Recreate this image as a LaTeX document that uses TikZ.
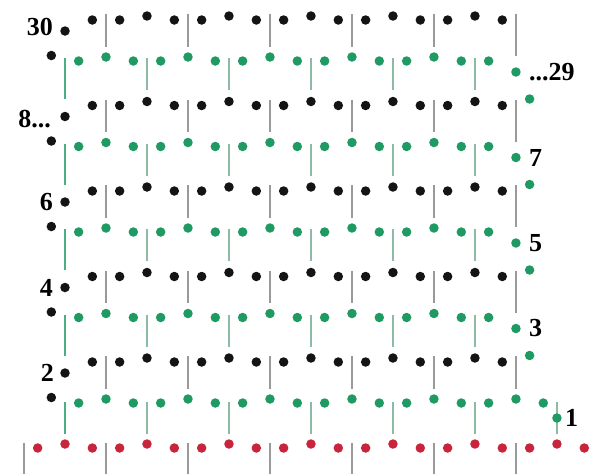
\documentclass[tikz,border=0pt]{standalone}
\usepackage{fontspec}
\setmainfont{Liberation Serif}
\usetikzlibrary{positioning,backgrounds}
\definecolor{dotblack}{HTML}{141414}
\definecolor{dotgreen}{HTML}{1F9A62}
\definecolor{dotred}{HTML}{C8243C}
\definecolor{bargrey}{HTML}{9A9A9A}
\definecolor{bargreen}{HTML}{8DB9A5}
\definecolor{baredge}{HTML}{4DAE82}
\tikzset{
  stitch/.style={circle, inner sep=0pt, minimum size=9.5pt},
  blackdot/.style={stitch, fill=dotblack},
  greendot/.style={stitch, fill=dotgreen},
  reddot/.style={stitch, fill=dotred},
  greybar/.style={draw=bargrey, line width=1.3pt},
  greenbar/.style={draw=bargreen, line width=1.3pt},
  edgebar/.style={draw=baredge, line width=1.8pt},
  rowno/.style={font=\bfseries\fontsize{26}{26}\selectfont, inner sep=1pt}
}
\begin{document}
\begin{tikzpicture}[x=1pt, y=-1pt]
  \useasboundingbox (0,0) rectangle (596,474);
  \def\u{27.33}
  \def\xo{65}
  % foundation chain
  \foreach \kk in {0,...,20}{
    \pgfmathsetmacro\yy{448-4*(mod(\kk,3)==1)}
    \node[reddot] (r\kk) at (\xo+\kk*\u-\u,\yy) {};
  }
  % rows, one black and one green per band
  \foreach \LL in {0,...,4}{
    \pgfmathsetmacro\yb{20+85.5*\LL}
    \pgfmathsetmacro\yg{\yb+41}
    \foreach \mm in {1,...,16}{
      \pgfmathsetmacro\yy{\yb-4*(mod(\mm,3)==0)}
      \node[blackdot] (b\LL-\mm) at (\xo+\mm*\u,\yy) {};
    }
    \node[blackdot] (b\LL-0) at (\xo,\yb+11) {};
    \node[blackdot] (t\LL) at (\xo-0.5*\u,\yg-5.5) {};
    \pgfmathtruncatemacro\kmax{\LL==4 ? 17 : 15}
    \foreach \kk in {0,...,\kmax}{
      \pgfmathsetmacro\yy{\yg-4*(mod(\kk,3)==1)}
      \node[greendot] (g\LL-\kk) at (\xo+\kk*\u+0.5*\u,\yy) {};
    }
    \ifnum\LL>0 \node[greendot] (s\LL) at (\xo+17*\u,\yb-6.5) {}; \fi
    \ifnum\LL<4
      \node[greendot] (g\LL-n) at (\xo+16.5*\u,\yg+11) {};
    \else
      \node[greendot] (g\LL-n) at (\xo+18*\u,\yg+15) {};
    \fi
  }
  % posts
  \begin{scope}[on background layer]
    \fill[white] (0,0) rectangle (596,474);
    \foreach \jj in {0,...,6}
      \draw[greybar] (\xo+3*\jj*\u-1.5*\u,443) -- (\xo+3*\jj*\u-1.5*\u,474);
    \foreach \LL in {0,...,4}{
      \pgfmathsetmacro\yb{20+85.5*\LL}
      \pgfmathsetmacro\yg{\yb+41}
      \pgfmathtruncatemacro\nx{\LL+1}
      \pgfmathtruncatemacro\jmax{\LL==4 ? 5 : 4}
      \foreach \jj in {0,...,\jmax}{
        \pgfmathtruncatemacro\kk{3*\jj+1}
        \draw[greybar, shorten >=5.5pt] (\xo+\kk*\u+0.5*\u,\yb-6) -- (g\LL-\kk);
      }
      \ifnum\LL<4
        \draw[greybar] (\xo+16.5*\u,\yb-6) -- (\xo+16.5*\u,\yg-5);
        \draw[edgebar, shorten >=12.5pt] (\xo,\yg-3) -- (b\nx-0);
        \foreach \jj in {1,...,5}{
          \pgfmathtruncatemacro\mm{3*\jj}
          \draw[greenbar, shorten >=6.5pt] (\xo+\mm*\u,\yg-3) -- (b\nx-\mm);
        }
      \else
        \draw[edgebar, shorten >=5.5pt] (\xo,\yg-1) -- (r1);
        \foreach \jj in {1,...,6}{
          \pgfmathtruncatemacro\kk{3*\jj+1}
          \draw[greenbar, shorten >=5.5pt] (\xo+3*\jj*\u,\yg-1) -- (r\kk);
        }
      \fi
    }
  \end{scope}
  % row numbers
  \node[rowno, left=6pt of b0-0, yshift=4pt] (n30) {30};
  \node[rowno, left=8pt of b1-0, yshift=-3pt] (n8) {8...};
  \node[rowno, left=6pt of b2-0] (n6) {6};
  \node[rowno, left=6pt of b3-0] (n4) {4};
  \node[rowno, left=5pt of b4-0] (n2) {2};
  \node[rowno, right=7pt of g0-n] (n29) {...29};
  \node[rowno, right=7pt of g1-n] (n7) {7};
  \node[rowno, right=7pt of g2-n] (n5) {5};
  \node[rowno, right=7pt of g3-n] (n3) {3};
  \node[rowno, right=2pt of g4-n] (n1) {1};
\end{tikzpicture}
\end{document}
